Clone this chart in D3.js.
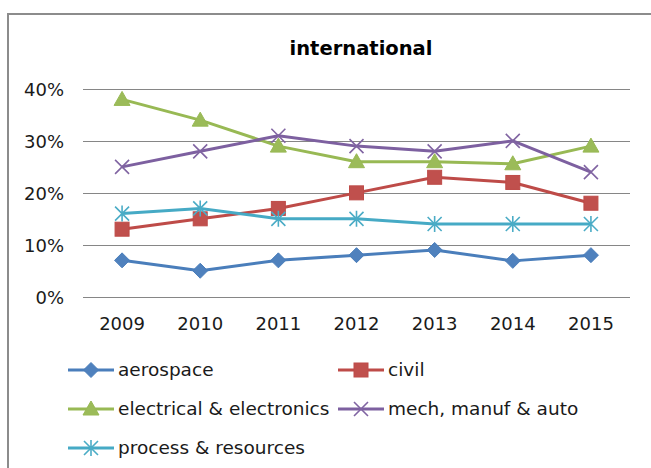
<!DOCTYPE html>
<html><head><meta charset="utf-8">
<script src="https://cdn.jsdelivr.net/npm/d3@7"></script>
<style>html,body{margin:0;padding:0;background:#fff;}svg{display:block;}</style>
</head><body>
<svg id="chart" width="651" height="468"></svg>
<script>
const years = ["2009","2010","2011","2012","2013","2014","2015"];
const aerospace = [0.07,0.05,0.07,0.08,0.09,0.069,0.08];
const civil = [0.13,0.15,0.17,0.20,0.23,0.22,0.18];
const electrical = [0.38,0.34,0.29,0.26,0.26,0.256,0.29];
const mech = [0.25,0.28,0.31,0.29,0.28,0.30,0.24];
const processRes = [0.16,0.17,0.15,0.15,0.14,0.14,0.14];
const yTicks = [0,0.1,0.2,0.3,0.4];
const seriesNames = ["aerospace","civil","electrical & electronics","mech, manuf & auto","process & resources"];

const series = [
  {name: seriesNames[0], values: aerospace, line:"#4A7EBB", fill:"#4F81BD", marker:"diamond"},
  {name: seriesNames[1], values: civil, line:"#BE4B48", fill:"#C0504D", marker:"square"},
  {name: seriesNames[2], values: electrical, line:"#98B954", fill:"#9BBB59", marker:"triangle"},
  {name: seriesNames[3], values: mech, line:"#7D60A0", fill:"#8064A2", marker:"x"},
  {name: seriesNames[4], values: processRes, line:"#46AAC5", fill:"#4BACC6", marker:"star"}
];

const svg = d3.select("#chart");
const font = "'DejaVu Sans', sans-serif";

// frame
svg.append("path").attr("d","M8,468 L8,14 L651,14")
  .attr("fill","none").attr("stroke","#8c8c8c").attr("stroke-width",2);

const x = d3.scaleBand().domain(years).range([83,630]).padding(0);
const y = d3.scaleLinear().domain([0,0.4]).range([296.7,89]);

// grid
svg.append("g").selectAll("line").data(yTicks).join("line")
  .attr("x1",83).attr("x2",630)
  .attr("y1",d=>Math.round(y(d))+0.5).attr("y2",d=>Math.round(y(d))+0.5)
  .attr("stroke","#868686").attr("stroke-width",1);

// y axis labels
const yAxis = svg.append("g").attr("transform","translate(75,0)")
  .call(d3.axisLeft(y).tickValues(yTicks).tickFormat(d3.format(".0%")).tickSize(0).tickPadding(0));
yAxis.select(".domain").remove();
yAxis.selectAll("text").attr("font-family",font).attr("font-size",18).attr("fill","#1a1a1a").attr("dy","0.35em").attr("x",-11);

// x axis labels
const xAxis = svg.append("g").attr("transform","translate(0,296.7)")
  .call(d3.axisBottom(x).tickSize(0).tickPadding(0));
xAxis.select(".domain").remove();
xAxis.selectAll("text").attr("font-family",font).attr("font-size",18).attr("fill","#1a1a1a").attr("y",27).attr("dy","0.35em");

// title
svg.append("text").attr("x",361).attr("y",55).attr("text-anchor","middle")
  .attr("font-family",font).attr("font-size",19.5).attr("font-weight","bold").attr("fill","#000")
  .text("international");

function drawMarker(g, type, cx, cy, s, fill, stroke) {
  if (type==="diamond") {
    g.append("path").attr("d",`M${cx},${cy-7.5}L${cx+7.5},${cy}L${cx},${cy+7.5}L${cx-7.5},${cy}Z`).attr("fill",fill).attr("stroke",stroke).attr("stroke-width",1);
  } else if (type==="square") {
    g.append("rect").attr("x",cx-7).attr("y",cy-7).attr("width",14).attr("height",14).attr("fill",fill).attr("stroke",stroke).attr("stroke-width",1);
  } else if (type==="triangle") {
    g.append("path").attr("d",`M${cx},${cy-8}L${cx+8},${cy+6}L${cx-8},${cy+6}Z`).attr("fill",fill).attr("stroke",stroke).attr("stroke-width",1);
  } else if (type==="x") {
    g.append("path").attr("d",`M${cx-7},${cy-7}L${cx+7},${cy+7}M${cx+7},${cy-7}L${cx-7},${cy+7}`).attr("stroke",fill).attr("stroke-width",1.6).attr("fill","none");
  } else if (type==="star") {
    g.append("path").attr("d",`M${cx-7},${cy-7}L${cx+7},${cy+7}M${cx+7},${cy-7}L${cx-7},${cy+7}M${cx},${cy-8}L${cx},${cy+8}`).attr("stroke",fill).attr("stroke-width",1.6).attr("fill","none");
  }
}

const line = d3.line().x((d,i)=>x(years[i])+x.bandwidth()/2).y(d=>y(d));
series.forEach(s=>{
  const g = svg.append("g");
  g.append("path").datum(s.values).attr("d",line).attr("fill","none")
    .attr("stroke",s.line).attr("stroke-width",3).attr("stroke-linejoin","round");
  s.values.forEach((v,i)=>drawMarker(g,s.marker,x(years[i])+x.bandwidth()/2,y(v),7,s.fill,s.line));
});

// legend
const legendPos = [[68,370],[338,370],[68,409],[338,409],[68,448]];
series.forEach((s,i)=>{
  const [lx,ly] = legendPos[i];
  const g = svg.append("g");
  g.append("line").attr("x1",lx).attr("x2",lx+46).attr("y1",ly).attr("y2",ly).attr("stroke",s.line).attr("stroke-width",3);
  drawMarker(g,s.marker,lx+23,ly,7,s.fill,s.line);
  g.append("text").attr("x",lx+50).attr("y",ly).attr("dy","0.35em")
    .attr("font-family",font).attr("font-size",18.5).attr("fill","#1a1a1a").text(s.name);
});
</script>
</body></html>
